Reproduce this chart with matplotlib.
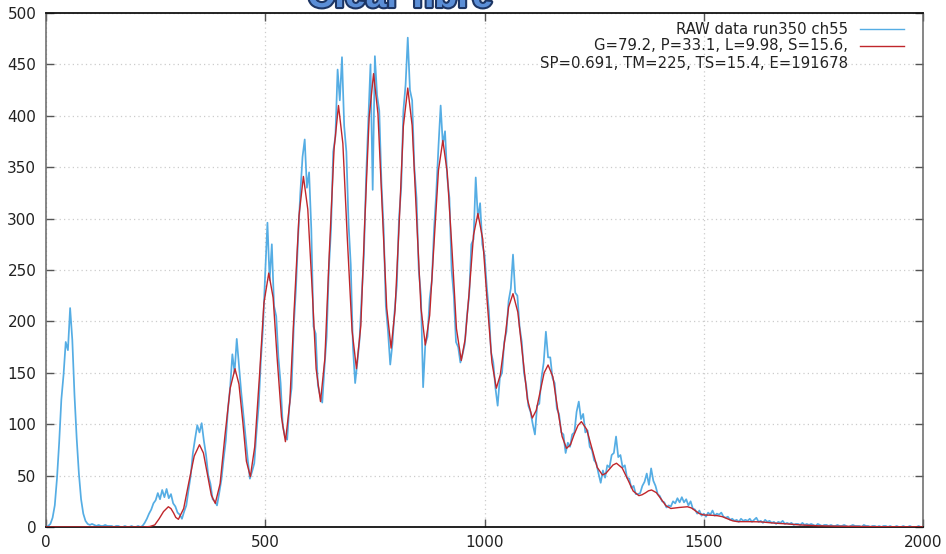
import numpy as np
import matplotlib
matplotlib.use('Agg')
import matplotlib.pyplot as plt
import matplotlib.patheffects as pe
from matplotlib.lines import Line2D

raw_step = 5
raw_counts = [
    0, 1, 3, 9, 21, 47, 82, 124, 148, 180,
    172, 213, 182, 128, 86, 52, 27, 13, 6, 3,
    2, 3, 2, 1, 2, 1, 1, 2, 1, 1,
    1, 0, 1, 1, 0, 0, 1, 0, 0, 1,
    0, 0, 1, 0, 1, 4, 8, 13, 17, 23,
    26, 33, 27, 36, 29, 37, 28, 32, 23, 20,
    14, 12, 8, 15, 21, 36, 50, 72, 86, 99,
    92, 101, 84, 70, 50, 42, 27, 25, 21, 33,
    46, 66, 84, 115, 136, 168, 150, 183, 158, 132,
    110, 88, 66, 47, 54, 62, 92, 118, 162, 195,
    248, 296, 240, 275, 215, 205, 165, 140, 98, 88,
    85, 118, 135, 195, 232, 282, 325, 360, 377, 330,
    345, 290, 195, 188, 138, 128, 121, 155, 185, 250,
    290, 365, 380, 445, 415, 457, 390, 365, 295, 255,
    175, 140, 160, 182, 225, 265, 340, 395, 450, 328,
    458, 420, 405, 335, 290, 215, 190, 158, 178, 210,
    235, 300, 330, 405, 430, 476, 425, 415, 350, 320,
    250, 225, 136, 178, 185, 222, 240, 290, 325, 370,
    410, 372, 385, 340, 320, 250, 225, 180, 175, 160,
    168, 178, 205, 225, 275, 280, 340, 300, 315, 275,
    265, 235, 210, 170, 160, 135, 118, 145, 150, 180,
    190, 220, 232, 265, 228, 225, 195, 180, 150, 138,
    118, 112, 100, 90, 118, 120, 145, 160, 190, 165,
    165, 145, 140, 115, 110, 92, 90, 72, 82, 78,
    90, 92, 112, 122, 105, 110, 92, 94, 78, 75,
    65, 62, 52, 43, 55, 48, 60, 58, 70, 72,
    88, 68, 70, 58, 60, 48, 47, 38, 40, 32,
    32, 33, 40, 44, 52, 41, 57, 45, 40, 32,
    30, 25, 24, 19, 21, 20, 25, 23, 28, 24,
    29, 24, 27, 21, 25, 18, 17, 13, 16, 11,
    13, 10, 14, 12, 16, 11, 13, 12, 14, 10,
    9, 10, 7, 8, 6, 7, 5, 8, 6, 7,
    6, 8, 5, 7, 9, 5, 6, 4, 7, 5,
    6, 4, 5, 3, 5, 4, 6, 3, 4, 3,
    4, 2, 3, 3, 2, 4, 2, 3, 2, 3,
    2, 1, 3, 2, 1, 2, 2, 1, 2, 1,
    1, 2, 1, 1, 2, 1, 0, 1, 2, 1,
    1, 1, 0, 2, 1, 1, 0, 1, 1, 0,
    1, 0, 1, 1, 0, 1, 0, 0, 1, 0,
    0, 1, 0, 0, 1, 0, 0, 0, 1, 0,
]
raw_ch = np.arange(len(raw_counts)) * raw_step

# fitted curve, read at peaks / valleys and between them
fit_ch = [0, 225, 237, 248, 258, 268, 279, 285, 291, 296, 302, 314, 326, 338,
          350, 359, 368, 377, 386, 397, 408, 420, 431, 440, 449, 457, 466, 476,
          487, 497, 508, 518, 527, 537, 546, 556, 566, 577, 587, 597, 607, 616,
          626, 636, 646, 657, 667, 677, 687, 698, 708, 718, 727, 737, 747, 757,
          767, 777, 787, 796, 806, 815, 825, 835, 845, 855, 865, 875, 885, 895,
          905, 915, 926, 936, 947, 956, 966, 975, 985, 996, 1006, 1017, 1027,
          1036, 1046, 1055, 1065, 1076, 1087, 1098, 1109, 1118, 1127, 1136,
          1145, 1156, 1166, 1177, 1187, 1196, 1204, 1213, 1221, 1233, 1245,
          1257, 1269, 1277, 1285, 1293, 1301, 1314, 1327, 1339, 1352, 1359,
          1367, 1374, 1381, 1392, 1403, 1414, 1425, 1444, 1463, 1472, 1481,
          1490, 1500, 1515, 1531, 1543, 1554, 1566, 1577, 1600, 1630, 1660,
          1690, 1720, 1760, 1800, 1850, 1900, 2000]
fit_val = [0, 0, 0.5, 2, 8, 15, 19.7, 17.9, 13.6, 9.3, 7.5, 18, 44, 69,
           80, 72, 51.5, 31, 23, 42, 88.5, 135, 154, 139, 101.5, 64, 49, 78,
           148, 218, 247, 223, 165, 107, 83, 121, 212, 303, 341, 309, 231.5, 154,
           122, 164, 266, 368, 410, 373, 282, 191, 154, 196, 297.5, 399, 441, 402,
           307.5, 213, 174, 211, 300.5, 390, 427, 390.5, 302, 213.5, 177, 206, 276.5, 347,
           376, 345, 269, 193, 162, 183, 233.5, 284, 305, 280, 220, 160, 135,
           148, 181, 214, 227, 209, 166.5, 124, 106, 113.5, 132, 150,
           157.6, 146, 117, 88, 76.5, 80, 89.5, 98.7, 102.5, 95, 76.5,
           58, 50.6, 52.3, 56.3, 60.3, 62, 57.4, 46, 35, 30.5, 31.3,
           33.2, 35.2, 36, 33.4, 27, 20.6, 18, 19, 19.7, 18.5, 15.7,
           13, 11.7, 11.5, 11, 10, 8, 6, 5.2, 5.2, 5, 3.8,
           3, 2, 1.2, 0.8, 0.5, 0.3, 0.1]

legend_raw = 'RAW data run350 ch55'
legend_fit = ['G=79.2, P=33.1, L=9.98, S=15.6,',
              'SP=0.691, TM=225, TS=15.4, E=191678']
title = 'Clear fibre'

raw_color = '#55ade4'
fit_color = '#c0262b'

plt.rcParams['font.family'] = ['DejaVu Sans']
fig = plt.figure(figsize=(9.46, 5.54), dpi=100)
ax = fig.add_axes([46 / 946, 27 / 554, 877 / 946, 514 / 554])

ax.plot(raw_ch, raw_counts, color=raw_color, lw=1.25, zorder=2)
ax.plot(fit_ch, fit_val, color=fit_color, lw=1.0, zorder=3)

ax.set_xlim(0, 2000)
ax.set_ylim(0, 500)
ax.set_xticks([0, 500, 1000, 1500, 2000])
ax.set_yticks(np.arange(0, 501, 50))
ax.grid(True, color='#cccccc', linestyle=(0, (1, 2.5)), lw=0.9)
ax.tick_params(direction='in', length=6, width=1, colors='#555555',
               labelcolor='#222222', labelsize=11, top=True, right=True)
ax.tick_params(axis='x', pad=6)
ax.tick_params(axis='y', pad=7)
for s in ['top', 'bottom']:
    ax.spines[s].set_color('#111111')
    ax.spines[s].set_linewidth(1.3)
for s in ['left', 'right']:
    ax.spines[s].set_color('#666666')
    ax.spines[s].set_linewidth(1.1)

# gnuplot style key, drawn by hand (text right aligned, sample to the right)
tx = (848 - 46) / 877
lx = [(860 - 46) / 877, (904 - 46) / 877]


def ay(py):
    return (527 - py) / 514


for py, txt in [(29, legend_raw), (46, legend_fit[0]), (64, legend_fit[1])]:
    ax.text(tx, ay(py), txt, transform=ax.transAxes, ha='right',
            va='center', fontsize=10.7, color='#222222')
ax.add_line(Line2D(lx, [ay(29)] * 2, transform=ax.transAxes,
                   color=raw_color, lw=1.0))
ax.add_line(Line2D(lx, [ay(46)] * 2, transform=ax.transAxes,
                   color=fit_color, lw=1.0))

t = fig.text(400 / 946, 1 - 7 / 554, title, ha='center', va='baseline',
             fontsize=27, fontweight='bold', family='Liberation Sans',
             color='#5b8ed6')
t.set_path_effects([pe.withStroke(linewidth=3, foreground='#1d3563')])

fig.savefig('out.png', dpi=100)
